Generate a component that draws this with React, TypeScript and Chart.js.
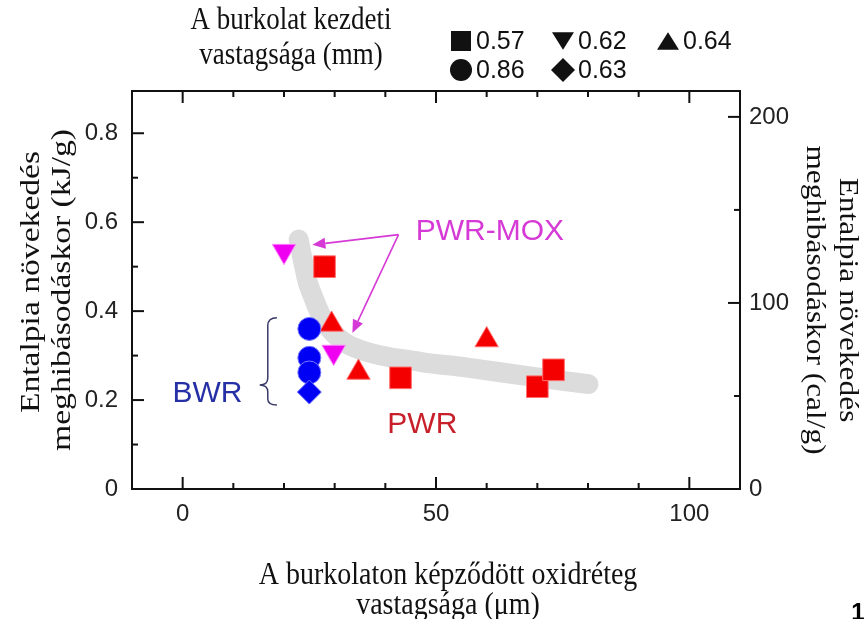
import React, { useEffect, useRef } from 'react';
import { Chart, registerables } from 'chart.js';

Chart.register(...registerables);

// ---------- data ----------
const KJ_PER_CAL = 0.004184;
const xMin = -10;
const xMax = 110;
const yMax = 0.895;

// 0.57 mm (squares, PWR)
const squareX = [28.0, 43.0, 70.0, 73.2];
const squareY = [0.5, 0.25, 0.23, 0.268];
// 0.62 mm (down triangles, PWR-MOX)
const downTriX = [20.0, 29.8];
const downTriY = [0.535, 0.308];
// 0.64 mm (up triangles, PWR)
const upTriX = [29.4, 34.7, 60.0];
const upTriY = [0.37, 0.262, 0.335];
// 0.86 mm (circles, BWR)
const circleX = [25.0, 25.0, 25.0];
const circleY = [0.36, 0.295, 0.262];
// 0.63 mm (diamond, BWR)
const diamondX = [25.0];
const diamondY = [0.218];
// grey trend band
const bandX = [22.9, 23.9, 25.2, 29.2, 35.1, 46.9, 56.2, 69.2, 80.1];
const bandY = [0.561, 0.505, 0.448, 0.358, 0.313, 0.286, 0.273, 0.252, 0.236];

const xTicks = [0, 50, 100];
const yTicks = [0, 0.2, 0.4, 0.6, 0.8];
const y2Ticks = [0, 100, 200];

const legendTitle = ['A burkolat kezdeti', 'vastagsága (mm)'];
const legendLabels = ['0.57', '0.62', '0.64', '0.86', '0.63'];
const xTitle = ['A burkolaton képződött oxidréteg', 'vastagsága (μm)'];
const yTitle = ['Entalpia növekedés', 'meghibásodáskor (kJ/g)'];
const y2Title = ['Entalpia növekedés', 'meghibásodáskor (cal/g)'];

const pts = (xs: number[], ys: number[]) => xs.map((x, i) => ({ x, y: ys[i] }));

const SANS = '"Liberation Sans", Arial, sans-serif';
const SERIF = '"Liberation Serif", "Times New Roman", serif';

function drawText(
  ctx: CanvasRenderingContext2D,
  text: string,
  x: number,
  y: number,
  o: { font: string; color: string; rotate?: number; sx?: number; sy?: number; align?: CanvasTextAlign; baseline?: CanvasTextBaseline }
) {
  ctx.save();
  ctx.translate(x, y);
  if (o.rotate) ctx.rotate(o.rotate);
  ctx.scale(o.sx ?? 1, o.sy ?? 1);
  ctx.font = o.font;
  ctx.fillStyle = o.color;
  ctx.textAlign = o.align ?? 'center';
  ctx.textBaseline = o.baseline ?? 'middle';
  ctx.fillText(text, 0, 0);
  ctx.restore();
}

function marker(ctx: CanvasRenderingContext2D, kind: string, x: number, y: number, r: number) {
  ctx.beginPath();
  if (kind === 'square') {
    ctx.rect(x - r, y - r, 2 * r, 2 * r);
  } else if (kind === 'circle') {
    ctx.arc(x, y, r, 0, Math.PI * 2);
  } else if (kind === 'up') {
    const h = r * 1.6;
    ctx.moveTo(x, y - h / 2);
    ctx.lineTo(x + r, y + h / 2);
    ctx.lineTo(x - r, y + h / 2);
  } else if (kind === 'down') {
    const h = r * 1.6;
    ctx.moveTo(x, y + h / 2);
    ctx.lineTo(x + r, y - h / 2);
    ctx.lineTo(x - r, y - h / 2);
  } else if (kind === 'diamond') {
    ctx.moveTo(x, y - r);
    ctx.lineTo(x + r, y);
    ctx.lineTo(x, y + r);
    ctx.lineTo(x - r, y);
  }
  ctx.closePath();
  ctx.fill();
}

function arrow(ctx: CanvasRenderingContext2D, x1: number, y1: number, x2: number, y2: number) {
  const ang = Math.atan2(y2 - y1, x2 - x1);
  const L = 13;
  const W = 5.5;
  const bx = x2 - Math.cos(ang) * L;
  const by = y2 - Math.sin(ang) * L;
  ctx.beginPath();
  ctx.moveTo(x1, y1);
  ctx.lineTo(bx, by);
  ctx.stroke();
  ctx.beginPath();
  ctx.moveTo(x2, y2);
  ctx.lineTo(bx + Math.sin(ang) * W, by - Math.cos(ang) * W);
  ctx.lineTo(bx - Math.sin(ang) * W, by + Math.cos(ang) * W);
  ctx.closePath();
  ctx.fill();
}

const decorPlugin = {
  id: 'decor',
  afterDatasetsDraw(chart: any) {
    const { ctx, chartArea: a, scales } = chart;
    const sx = scales.x;
    const sy = scales.y;
    const sy2 = scales.y2;
    const X = (v: number) => sx.getPixelForValue(v);
    const Y = (v: number) => sy.getPixelForValue(v);
    ctx.save();

    // --- annotations ---
    const mag = '#d63ad6';
    ctx.strokeStyle = mag;
    ctx.fillStyle = mag;
    ctx.lineWidth = 1.6;
    arrow(ctx, X(42.6), Y(0.572), X(25.6), Y(0.549));
    arrow(ctx, X(42.6), Y(0.572), X(33.5), Y(0.351));
    drawText(ctx, 'PWR-MOX', X(46.0), Y(0.578), { font: `30px ${SANS}`, color: mag, align: 'left' });
    drawText(ctx, 'BWR', X(11.8), Y(0.214), { font: `30px ${SANS}`, color: '#2630a6', align: 'right' });
    drawText(ctx, 'PWR', X(40.4), Y(0.144), { font: `30px ${SANS}`, color: '#c8202a', align: 'left' });

    // brace
    ctx.strokeStyle = '#3a3a6a';
    ctx.lineWidth = 1.5;
    const bR = X(18.6), bM = X(16.8), bC = X(15.2);
    const yT = Y(0.385), yC = Y(0.234), yB = Y(0.189);
    ctx.beginPath();
    ctx.moveTo(bR, yT);
    ctx.quadraticCurveTo(bM, yT, bM, yT + 8);
    ctx.lineTo(bM, yC - 7);
    ctx.quadraticCurveTo(bM, yC, bC, yC);
    ctx.quadraticCurveTo(bM, yC, bM, yC + 7);
    ctx.lineTo(bM, yB - 6);
    ctx.quadraticCurveTo(bM, yB, bR, yB);
    ctx.stroke();

    // --- frame and inward ticks ---
    ctx.strokeStyle = '#111';
    ctx.lineWidth = 2;
    ctx.strokeRect(a.left, a.top, a.right - a.left, a.bottom - a.top);
    const seg = (x1: number, y1: number, x2: number, y2: number) => {
      ctx.beginPath();
      ctx.moveTo(x1, y1);
      ctx.lineTo(x2, y2);
      ctx.stroke();
    };
    for (let v = 0; v <= 100; v += 10) {
      const px = X(v);
      const len = v % 50 === 0 ? 12 : 6;
      seg(px, a.bottom, px, a.bottom - len);
      seg(px, a.top, px, a.top + len);
    }
    for (let i = 0; i <= 8; i++) {
      const py = Y(i / 10);
      const len = i % 2 === 0 ? 12 : 6;
      seg(a.left, py, a.left + len, py);
    }
    for (let v = 0; v <= 200; v += 50) {
      const py = sy2.getPixelForValue(v);
      const len = v % 100 === 0 ? 12 : 6;
      seg(a.right, py, a.right - len, py);
    }
    ctx.restore();
  },
  afterDraw(chart: any) {
    const { ctx } = chart;
    ctx.save();
    const ink = '#111';
    const serif = `27px ${SERIF}`;
    // legend title
    drawText(ctx, legendTitle[0], 291, 21, { font: serif, color: ink, sy: 1.15 });
    drawText(ctx, legendTitle[1], 291, 56, { font: serif, color: ink, sy: 1.15 });
    // legend items
    const items = [
      { k: 'square', x: 461, y: 41, r: 10 },
      { k: 'down', x: 563, y: 41, r: 11 },
      { k: 'up', x: 668, y: 41, r: 11 },
      { k: 'circle', x: 461, y: 70, r: 11 },
      { k: 'diamond', x: 563, y: 70, r: 12 },
    ];
    items.forEach((it, i) => {
      ctx.fillStyle = ink;
      marker(ctx, it.k, it.x, it.y, it.r);
      drawText(ctx, legendLabels[i], it.x + 15, it.y + 1, { font: `25px ${SANS}`, color: ink, align: 'left' });
    });
    // axis titles
    drawText(ctx, xTitle[0], 448, 576, { font: `28px ${SERIF}`, color: ink, sy: 1.14 });
    drawText(ctx, xTitle[1], 448, 606, { font: `28px ${SERIF}`, color: ink, sy: 1.14 });
    drawText(ctx, yTitle[0], 32, 282, { font: `28px ${SERIF}`, color: ink, rotate: -Math.PI / 2, sx: 1.2 });
    drawText(ctx, yTitle[1], 63, 290, { font: `28px ${SERIF}`, color: ink, rotate: -Math.PI / 2, sx: 1.2 });
    drawText(ctx, y2Title[0], 847, 300, { font: `28px ${SERIF}`, color: ink, rotate: Math.PI / 2, sx: 1.12 });
    drawText(ctx, y2Title[1], 814, 300, { font: `28px ${SERIF}`, color: ink, rotate: Math.PI / 2, sx: 1.12 });
    // page number fragment
    drawText(ctx, '1', 858, 620, { font: `bold 24px ${SANS}`, color: '#000', baseline: 'alphabetic' });
    ctx.restore();
  },
};

export default function App() {
  const ref = useRef<HTMLCanvasElement | null>(null);

  useEffect(() => {
    if (!ref.current) return;
    const tickFont = { family: SANS, size: 24 };
    const chart = new Chart(ref.current, {
      type: 'scatter',
      data: {
        datasets: [
          {
            label: '0.63',
            data: pts(diamondX, diamondY),
            pointStyle: 'rectRot',
            pointRadius: 12,
            backgroundColor: '#0000f5',
            borderColor: '#6a6aff',
            borderWidth: 1,
            order: 1,
          },
          {
            label: '0.86',
            data: pts(circleX, circleY),
            pointStyle: 'circle',
            pointRadius: 11.5,
            backgroundColor: '#0000f5',
            borderColor: '#7a7aff',
            borderWidth: 1,
            order: 2,
          },
          {
            label: '0.57',
            data: pts(squareX, squareY),
            pointStyle: 'rect',
            pointRadius: 15.3,
            backgroundColor: '#f40000',
            borderColor: '#ff7070',
            borderWidth: 1,
            order: 3,
          },
          {
            label: '0.64',
            data: pts(upTriX, upTriY),
            pointStyle: 'triangle',
            pointRadius: 13.5,
            backgroundColor: '#f40000',
            borderColor: '#ff7070',
            borderWidth: 1,
            order: 4,
          },
          {
            label: '0.62',
            data: pts(downTriX, downTriY),
            pointStyle: 'triangle',
            pointRotation: 180,
            pointRadius: 13.5,
            backgroundColor: '#f000f0',
            borderColor: '#ff80ff',
            borderWidth: 1,
            order: 5,
          },
          {
            label: 'trend',
            data: pts(bandX, bandY),
            showLine: true,
            borderColor: '#dcdcdc',
            borderWidth: 20,
            borderCapStyle: 'round',
            borderJoinStyle: 'round',
            tension: 0.4,
            pointRadius: 0,
            order: 10,
          } as any,
        ],
      },
      options: {
        animation: false,
        responsive: false,
        events: [],
        layout: { padding: { top: 91, left: 0, right: 0, bottom: 0 } },
        plugins: { legend: { display: false }, tooltip: { enabled: false } },
        scales: {
          x: {
            type: 'linear',
            position: 'bottom',
            min: xMin,
            max: xMax,
            grid: { display: false, drawTicks: false },
            border: { display: false },
            afterBuildTicks: (s: any) => {
              s.ticks = xTicks.map((v) => ({ value: v }));
            },
            afterFit: (s: any) => {
              s.height = 130;
            },
            ticks: { font: tickFont, color: '#222', padding: 11, maxRotation: 0, callback: (v: any) => String(v) },
          },
          y: {
            type: 'linear',
            position: 'left',
            min: 0,
            max: yMax,
            grid: { display: false, drawTicks: false },
            border: { display: false },
            afterBuildTicks: (s: any) => {
              s.ticks = yTicks.map((v) => ({ value: v }));
            },
            afterFit: (s: any) => {
              s.width = 132;
            },
            ticks: { font: tickFont, color: '#222', padding: 14, callback: (v: any) => String(v) },
          },
          y2: {
            type: 'linear',
            position: 'right',
            min: 0,
            max: yMax / KJ_PER_CAL,
            grid: { display: false, drawTicks: false },
            border: { display: false },
            afterBuildTicks: (s: any) => {
              s.ticks = y2Ticks.map((v) => ({ value: v }));
            },
            afterFit: (s: any) => {
              s.width = 126;
            },
            ticks: { font: tickFont, color: '#222', padding: 9, callback: (v: any) => String(v) },
          },
        },
      } as any,
      plugins: [decorPlugin],
    });
    return () => chart.destroy();
  }, []);

  return (
    <div style={{ position: 'fixed', left: 0, top: 0, width: 866, height: 619, background: '#fff' }}>
      <canvas ref={ref} width={866} height={619} style={{ width: 866, height: 619, display: 'block' }} />
    </div>
  );
}
